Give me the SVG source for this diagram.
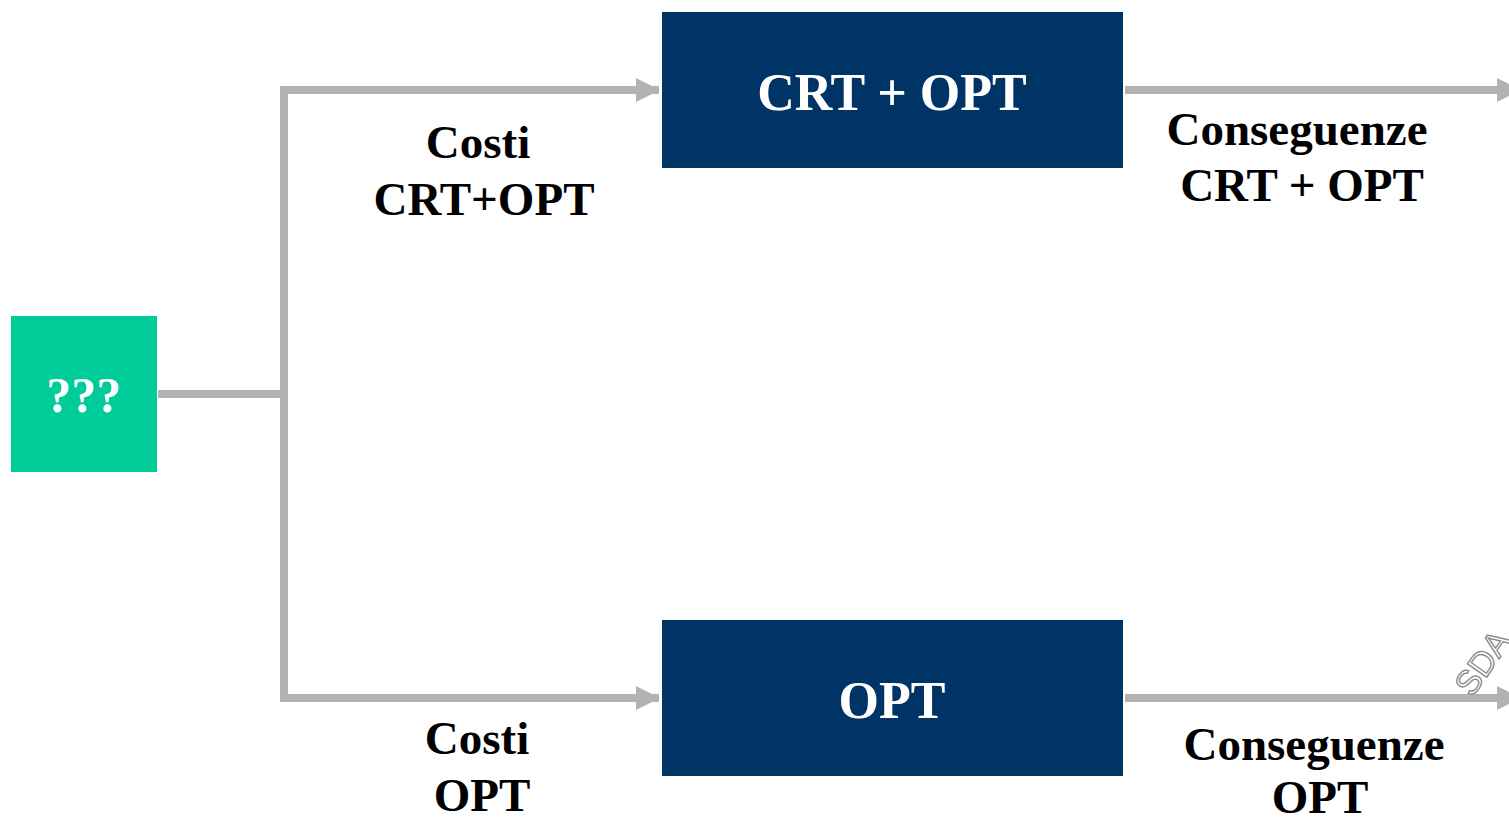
<svg xmlns="http://www.w3.org/2000/svg" width="1509" height="821" viewBox="0 0 1509 821">
<style>
.lbl{font-family:"Liberation Serif","Times New Roman",serif;font-weight:bold;font-size:47px;fill:#000;text-anchor:middle}
.box{font-family:"Liberation Serif","Times New Roman",serif;font-weight:bold;font-size:52px;fill:#fff;text-anchor:middle}
.ln{stroke:#b3b3b3;stroke-width:8;fill:none}
</style>
<defs>
<marker id="ah" markerUnits="userSpaceOnUse" markerWidth="24" markerHeight="26" refX="23" refY="12" orient="auto">
<path d="M0,0 L24,12 L0,24 Z" fill="#b3b3b3"/>
</marker>
</defs>
<rect width="1509" height="821" fill="#fff"/>
<g id="connectors">
<path class="ln" d="M158,394 H284"/>
<path class="ln" d="M284,90 V698"/>
<path class="ln" d="M280,90 H659" marker-end="url(#ah)"/>
<path class="ln" d="M280,698 H659" marker-end="url(#ah)"/>
<path class="ln" d="M1125,90 H1520" marker-end="url(#ah)"/>
<path class="ln" d="M1125,698 H1520" marker-end="url(#ah)"/>
</g>
<g id="start">
<rect x="11" y="316" width="146" height="156" fill="#00cc99"/>
<text class="box" x="84" y="412" style="font-size:50px">???</text>
</g>
<g id="crtopt">
<rect x="662" y="12" width="461" height="156" fill="#003366"/>
<text class="box" x="892" y="110">CRT + OPT</text>
</g>
<g id="opt">
<rect x="662" y="620" width="461" height="156" fill="#003366"/>
<text class="box" x="892" y="718">OPT</text>
</g>
<g id="labels">
<text class="lbl" x="478" y="158">Costi</text>
<text class="lbl" x="484" y="215">CRT+OPT</text>
<text class="lbl" x="477" y="754">Costi</text>
<text class="lbl" x="482" y="811">OPT</text>
<text class="lbl" x="1297" y="145">Conseguenze</text>
<text class="lbl" x="1302" y="201">CRT + OPT</text>
<text class="lbl" x="1314" y="760">Conseguenze</text>
<text class="lbl" x="1320" y="813">OPT</text>
</g>
<text x="1472" y="698" transform="rotate(-55 1472 698)" style="font-family:'Liberation Sans',Arial,sans-serif;font-size:34px;fill:none;stroke:#888;stroke-width:1.3">SDA</text>
</svg>
